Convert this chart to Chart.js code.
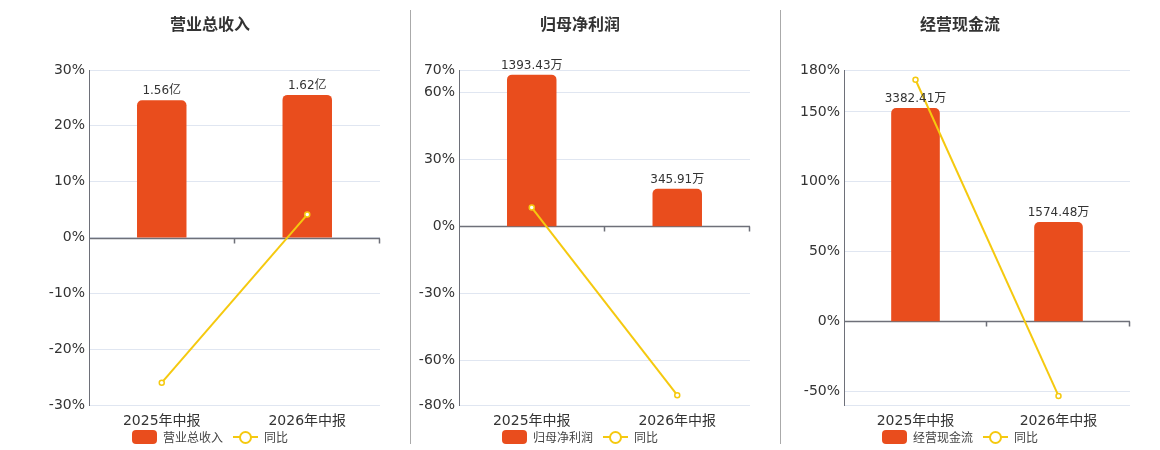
<!DOCTYPE html>
<html lang="zh">

<head>
  <meta charset="utf-8">
  <script src="https://cdn.jsdelivr.net/npm/chart.js"></script>
  <style>
    body {
      margin: 0;
      width: 1160px;
      height: 450px;
      background: #fff;
      font-family: "DejaVu Sans", "Noto Sans CJK SC", sans-serif;
      color: #333;
      position: relative;
      overflow: hidden;
    }

    .panel {
      position: absolute;
      top: 0;
      height: 450px;
    }

    .sep {
      position: absolute;
      top: 10px;
      height: 434px;
      width: 1px;
      background: #aaa;
    }

    .title {
      position: absolute;
      top: 11px;
      width: 200px;
      text-align: center;
      font-size: 16px;
      font-weight: bold;
      color: #333;
    }

    .legend {
      position: absolute;
      top: 428px;
      width: 240px;
      display: flex;
      justify-content: center;
      align-items: center;
      font-size: 12px;
      color: #444;
    }

    .sw-bar {
      display: inline-block;
      width: 25px;
      height: 14px;
      border-radius: 4px;
      background: #e94d1d;
      margin-right: 6px;
    }

    .sw-line {
      display: inline-block;
      position: relative;
      width: 25px;
      height: 14px;
      margin: 0 6px 0 10px;
    }

    .sw-line::before {
      content: '';
      position: absolute;
      left: 0;
      right: 0;
      top: 6px;
      height: 2px;
      background: #f5c90f;
    }

    .sw-line::after {
      content: '';
      position: absolute;
      left: 6px;
      top: 1px;
      width: 9px;
      height: 9px;
      border: 2px solid #f5c90f;
      border-radius: 50%;
      background: #fff;
    }
  </style>
</head>

<body>
  <div class="panel" style="left:0;width:410px;"><canvas id="c1" width="410" height="450"></canvas></div>
  <div class="panel" style="left:410px;width:370px;"><canvas id="c2" width="370" height="450"></canvas></div>
  <div class="panel" style="left:780px;width:380px;"><canvas id="c3" width="380" height="450"></canvas></div>

  <div class="sep" style="left:410px;"></div>
  <div class="sep" style="left:780px;"></div>

  <div class="title" style="left:110px;">营业总收入</div>
  <div class="title" style="left:480px;">归母净利润</div>
  <div class="title" style="left:860px;">经营现金流</div>

  <div class="legend" style="left:90px;"><span class="sw-bar"></span>营业总收入<span class="sw-line"></span>同比</div>
  <div class="legend" style="left:460px;"><span class="sw-bar"></span>归母净利润<span class="sw-line"></span>同比</div>
  <div class="legend" style="left:840px;"><span class="sw-bar"></span>经营现金流<span class="sw-line"></span>同比</div>

  <script>
    const categories = ['2025年中报', '2026年中报'];

    // 营业总收入 (亿)
    const revenueValues = [1.56, 1.62];
    const revenueYoy = [-26.0, 4.1];
    const revenueTicks = [-30, -20, -10, 0, 10, 20, 30];

    // 归母净利润 (万)
    const profitValues = [1393.43, 345.91];
    const profitYoy = [8.4, -75.6];
    const profitTicks = [-80, -60, -30, 0, 30, 60, 70];

    // 经营现金流 (万)
    const cashValues = [3382.41, 1574.48];
    const cashYoy = [173, -53.5];
    const cashTicks = [-60, -50, 0, 50, 100, 150, 180];

    const BAR = '#e94d1d';
    const LINE = '#f5c90f';
    const FONT = '"DejaVu Sans", "Noto Sans CJK SC", sans-serif';

    /* ------------------------------------------------ */

    // zero axis line with category ticks + value labels above bars
    const panelDecor = {
      id: 'panelDecor',
      beforeDatasetsDraw(chart) {
        const ctx = chart.ctx;
        const x = chart.scales.x;
        const y0 = Math.round(chart.scales.y.getPixelForValue(0)) + 0.5;
        const area = chart.chartArea;
        ctx.save();
        ctx.strokeStyle = '#6e7079';
        ctx.lineWidth = 1.5;
        ctx.beginPath();
        ctx.moveTo(area.left, y0);
        ctx.lineTo(area.right, y0);
        const step = (area.right - area.left) / x.ticks.length;
        for (let i = 1; i <= x.ticks.length; i++) {
          const px = Math.round(area.left + step * i) - 0.5;
          ctx.moveTo(px, y0);
          ctx.lineTo(px, y0 + 5);
        }
        ctx.stroke();
        ctx.restore();
      },
      afterDatasetsDraw(chart, args, opts) {
        const ctx = chart.ctx;
        const meta = chart.getDatasetMeta(0);
        const values = chart.data.datasets[0].data;
        ctx.save();
        ctx.font = '12px ' + FONT;
        ctx.fillStyle = '#333';
        ctx.textAlign = 'center';
        ctx.textBaseline = 'bottom';
        meta.data.forEach((bar, i) => {
          ctx.fillText(values[i].toFixed(2) + opts.unit, bar.x, bar.y - 3);
        });
        ctx.restore();
      }
    };

    function buildPanel(id, label, values, yoy, ticks, barMax, unit, axisWidth, hideMin) {
      const pMin = ticks[0];
      const pMax = ticks[ticks.length - 1];
      const barMin = barMax * pMin / pMax;

      new Chart(document.getElementById(id), {
        data: {
          labels: categories,
          datasets: [
            {
              type: 'bar',
              label: label,
              data: values,
              yAxisID: 'y1',
              backgroundColor: BAR,
              borderRadius: { topLeft: 5, topRight: 5 },
              borderSkipped: 'bottom',
              barPercentage: 0.34,
              categoryPercentage: 1,
              order: 1
            },
            {
              type: 'line',
              label: '同比',
              data: yoy,
              yAxisID: 'y',
              borderColor: LINE,
              borderWidth: 2,
              pointRadius: 2.5,
              pointBackgroundColor: '#fff',
              pointBorderColor: LINE,
              pointBorderWidth: 1.5,
              tension: 0,
              order: 0
            }
          ]
        },
        options: {
          responsive: false,
          animation: false,
          layout: {
            padding: { top: 70, right: 30, bottom: 0, left: 0 }
          },
          scales: {
            x: {
              grid: { display: false },
              border: { display: false },
              ticks: {
                color: '#333',
                padding: 0,
                font: { size: 14, family: FONT }
              },
              afterFit: (s) => { s.height = 45; }
            },
            y: {
              min: pMin,
              max: pMax,
              afterBuildTicks: (s) => { s.ticks = ticks.map(v => ({ value: v })); },
              grid: { color: '#e0e6f1', drawTicks: false },
              border: { display: true, color: '#6e7079', width: 1 },
              ticks: {
                color: '#333',
                padding: 4,
                font: { size: 14, family: FONT },
                callback: (v) => (hideMin && v === pMin) ? '' : v + '%'
              },
              afterFit: (s) => { s.width = axisWidth; }
            },
            y1: {
              display: false,
              min: barMin,
              max: barMax
            }
          },
          plugins: {
            legend: { display: false },
            tooltip: { enabled: false },
            panelDecor: { unit: unit }
          }
        },
        plugins: [panelDecor]
      });
    }

    buildPanel('c1', '营业总收入', revenueValues, revenueYoy, revenueTicks, 1.903, '亿', 89, false);
    buildPanel('c2', '归母净利润', profitValues, profitYoy, profitTicks, 1436, '万', 49, false);
    buildPanel('c3', '经营现金流', cashValues, cashYoy, cashTicks, 3986, '万', 64, true);
  </script>
</body>

</html>
